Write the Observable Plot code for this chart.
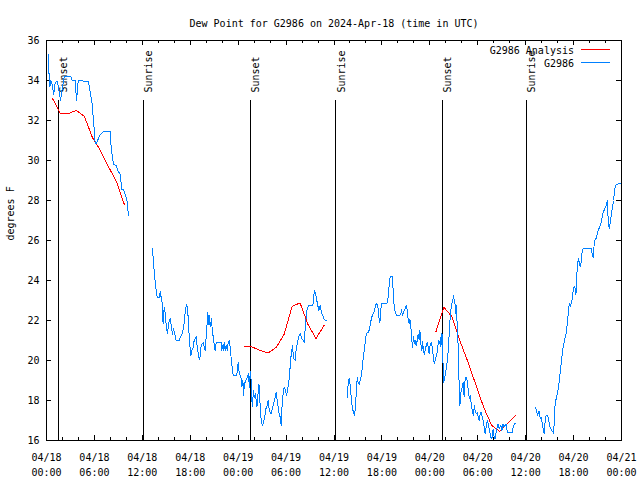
<!DOCTYPE html>
<html><head><meta charset="utf-8">
<script src="https://cdn.jsdelivr.net/npm/d3@7"></script>
<script src="https://cdn.jsdelivr.net/npm/@observablehq/plot@0.6"></script>
<style>html,body{margin:0;padding:0;background:#fff}svg{display:block}</style>
</head><body><div id="chart"></div>
<script>
const startUTC = Date.UTC(2024, 3, 18, 0, 0);
const title = "Dew Point for G2986 on 2024-Apr-18 (time in UTC)";
const yLabel = "degrees F";
const seriesNames = ["G2986 Analysis", "G2986"];
const seriesColors = ["#ff0000", "#0080ff"];
const yTicks = [16, 18, 20, 22, 24, 26, 28, 30, 32, 34, 36];
const xMajorHours = [0, 6, 12, 18, 24, 30, 36, 42, 48, 54, 60, 66, 72];
const xMinorHours = [2, 4, 8, 10, 14, 16, 20, 22, 26, 28, 32, 34, 38, 40, 44, 46, 50, 52, 56, 58, 62, 64, 68, 70];
const sunsetHours = [1.5, 25.57, 49.59];
const sunriseHours = [12.15, 36.24, 60.11];

// G2986 Analysis (hours since 04/18 00:00 UTC, deg F)
const analysis1 = [[0.75,33.1],[1.75,32.35],[2.75,32.35],[3.75,32.5],[4.75,32.2],[5.75,31.15],[6.75,30.5],[7.75,29.7],[8.75,28.95],[9.75,27.8]];
const analysis2 = [[24.75,20.68],[25.75,20.68],[26.75,20.5],[27.75,20.38],[28.75,20.65],[29.75,21.3],[30.75,22.7],[31.75,22.88],[32.75,21.8],[33.75,21.1],[34.75,21.75]];
const analysis3 = [[48.75,21.42],[49.75,22.67],[50.75,22.2],[51.75,21.0],[52.75,19.95],[53.75,18.8],[54.75,17.65],[55.75,16.75],[56.75,16.45],[57.75,16.85],[58.75,17.25]];

// G2986 observations
const obs1 = [[0.25,35.3],[0.34,34.0],[0.43,33.7],[0.53,34.0],[0.71,33.8],[0.90,33.3],[1.09,33.9],[1.34,33.95],[1.53,33.6],[1.75,33.0],[1.97,33.6],[2.22,34.2],[3.06,34.2],[3.22,34.0],[3.59,34.0],[3.76,33.0],[3.97,34.0],[5.26,33.95],[5.47,33.4],[5.69,32.9],[5.89,32.0],[6.10,30.85],[6.22,30.85],[6.51,31.1],[6.72,31.3],[7.14,31.45],[7.98,31.45],[8.10,30.6],[8.39,29.8],[8.73,29.75],[8.94,29.5],[9.23,29.3],[9.44,28.55],[9.64,28.55],[9.85,28.3],[10.07,28.0],[10.27,27.25]];
const obs2 = [[13.27,25.58],[13.40,24.9],[13.52,24.25],[13.74,23.5],[13.86,23.15],[14.15,23.15],[14.24,23.45],[14.36,23.15],[14.45,23.1],[14.53,22.2],[14.61,21.85],[14.74,22.67],[14.86,22.4],[14.99,21.75],[15.15,21.33],[15.28,21.83],[15.49,22.1],[15.61,21.8],[15.78,21.3],[15.90,21.6],[16.08,21.3],[16.24,21.0],[16.62,21.0],[16.74,21.15],[16.99,21.35],[17.16,21.6],[17.28,22.1],[17.41,22.6],[17.58,22.8],[17.66,22.5],[17.78,22.0],[17.87,21.15],[17.99,20.6],[18.08,20.25],[18.21,20.5],[18.37,20.67],[18.49,21.0],[18.75,21.2],[18.87,20.67],[19.00,20.33],[19.16,20.03],[19.25,20.25],[19.37,20.75],[19.62,20.9],[19.87,20.5],[20.21,22.4],[20.29,21.8],[20.37,22.25],[20.50,21.67],[20.66,22.08],[20.79,21.33],[20.91,21.17],[21.00,20.75],[21.12,20.5],[21.25,20.9],[21.88,20.9],[21.96,20.5],[22.04,20.75],[22.16,20.5],[22.25,20.9],[22.37,20.5],[22.50,20.75],[22.63,20.5],[22.75,20.9],[22.88,21.0],[23.00,20.67],[23.13,20.08],[23.25,19.67],[23.38,19.25],[23.79,19.25],[23.92,19.5],[24.00,19.9],[24.13,19.4],[24.34,19.17],[24.47,18.67],[24.59,19.0],[24.67,18.25],[24.79,18.83],[24.97,19.0],[25.17,19.17],[25.26,19.33],[25.34,19.0],[25.42,18.67],[25.51,19.47],[25.63,19.0],[25.76,17.67],[25.92,18.5],[26.01,18.17],[26.17,18.33],[26.35,17.67],[26.42,18.0],[26.60,18.83],[26.67,18.42],[26.76,17.67],[26.88,17.0],[27.05,16.75],[27.17,16.92],[27.35,17.25],[27.47,17.58],[27.64,17.75],[27.76,18.0],[27.89,17.5],[28.10,17.33],[28.23,17.5],[28.43,17.83],[28.64,18.17],[28.76,18.42],[28.89,18.0],[29.01,17.67],[29.14,17.33],[29.26,17.17],[29.39,16.75],[29.51,17.83],[29.68,18.58],[29.80,18.67],[29.93,18.5],[30.05,18.25],[30.18,18.5],[30.30,18.83],[30.43,19.17],[30.55,20.0],[30.80,20.75],[30.93,20.1],[31.14,20.0],[31.27,20.6],[31.56,21.17],[31.77,21.37],[31.98,21.1],[32.31,20.9],[32.39,21.67],[32.61,22.53],[32.81,22.75],[33.36,22.75],[33.43,23.17],[33.56,23.5],[33.77,23.17],[33.93,22.83],[34.11,22.5],[34.27,22.75],[34.43,22.4],[34.61,22.25],[34.81,22.03],[35.11,21.98]];
const obs3 = [[37.69,18.17],[37.78,18.9],[37.90,19.13],[38.03,18.75],[38.15,18.17],[38.28,17.67],[38.44,17.4],[38.57,17.25],[38.69,17.67],[38.82,18.67],[38.91,19.13],[39.03,18.9],[39.16,18.8],[39.28,19.0],[39.44,19.3],[39.57,19.75],[39.69,20.25],[39.87,20.75],[39.99,21.2],[40.16,21.42],[40.28,21.37],[40.45,21.58],[40.57,21.87],[40.70,22.13],[40.87,22.33],[41.03,22.42],[41.16,22.67],[41.32,22.87],[41.50,22.67],[41.62,22.17],[41.75,21.9],[41.87,22.58],[42.00,22.87],[42.66,22.87],[42.79,23.17],[42.91,23.75],[43.04,24.2],[43.33,24.2],[43.41,23.42],[43.54,22.67],[43.66,22.42],[43.83,22.25],[44.25,22.25],[44.38,22.37],[44.45,22.53],[44.58,22.25],[44.70,22.42],[44.88,22.58],[45.04,22.75],[45.17,22.53],[45.29,22.03],[45.42,21.83],[45.50,22.08],[45.63,21.67],[45.75,21.0],[45.83,20.67],[45.96,21.2],[46.08,20.83],[46.17,21.03],[46.29,20.75],[46.42,21.0],[46.54,21.33],[46.67,21.03],[46.76,21.5],[46.88,20.83],[47.01,20.5],[47.08,20.97],[47.21,20.53],[47.30,20.3],[47.42,20.53],[47.55,20.75],[47.67,20.92],[47.80,20.7],[47.92,20.33],[48.05,20.83],[48.17,20.9],[48.30,20.67],[48.42,20.25],[48.55,19.83],[48.67,20.0],[48.89,20.33],[49.01,20.75],[49.14,21.0],[49.26,20.83],[49.30,21.17],[49.39,20.67],[49.46,21.33],[49.58,21.3],[49.67,19.5],[49.71,18.92],[49.84,19.08],[49.96,19.33],[50.09,19.67],[50.21,20.08],[50.34,20.67],[50.46,21.67],[50.59,22.33],[50.71,22.83],[50.84,22.92],[50.96,23.25],[51.09,22.92],[51.18,22.75],[51.26,22.33],[51.34,22.75],[51.43,21.67],[51.52,21.0],[51.59,19.83],[51.68,18.67],[51.77,17.75],[51.84,18.17],[51.93,18.5],[52.05,18.67],[52.18,18.92],[52.30,18.17],[52.43,19.17],[52.55,19.17],[52.72,18.92],[52.81,18.5],[52.97,18.08],[53.06,18.25],[53.18,17.83],[53.34,17.42],[53.47,17.25],[53.56,17.75],[53.68,17.5],[53.81,17.33],[53.97,17.42],[54.06,17.17],[54.18,17.0],[54.31,17.33],[54.43,17.42],[54.56,17.17],[54.68,17.0],[54.81,16.67],[54.93,16.33],[55.06,16.67],[55.18,17.0],[55.31,16.83],[55.43,16.58],[55.56,16.33],[55.68,16.08],[55.81,16.17],[55.93,16.58],[56.06,16.17],[56.18,16.08],[56.31,16.42],[56.44,16.67],[56.56,16.83],[56.69,16.58],[56.90,16.75],[57.03,16.5],[57.15,16.83],[57.31,16.67],[57.53,16.83],[57.60,16.67],[57.73,16.42],[58.32,16.42],[58.44,16.67],[58.57,16.83],[58.78,16.87]];
const obs4 = [[61.23,17.63],[61.36,17.53],[61.48,17.25],[61.57,17.37],[61.70,17.47],[61.82,17.08],[61.95,17.13],[62.07,16.9],[62.20,16.58],[62.33,16.33],[62.45,17.0],[62.57,17.25],[62.74,17.25],[62.86,17.08],[62.99,16.75],[63.16,16.58],[63.32,16.47],[63.49,16.37],[63.57,16.83],[63.70,17.92],[63.82,18.08],[63.95,18.33],[64.07,18.58],[64.20,18.92],[64.33,19.42],[64.45,19.83],[64.58,20.33],[64.70,20.67],[64.83,20.92],[64.96,21.17],[65.08,21.37],[65.21,21.83],[65.33,22.33],[65.46,22.87],[65.58,22.67],[65.71,22.87],[65.83,23.08],[65.96,23.53],[66.08,23.7],[66.21,23.58],[66.29,23.3],[66.37,23.75],[66.45,24.63],[66.58,25.08],[66.70,24.92],[66.83,24.67],[66.96,24.92],[67.08,25.5],[67.20,25.58],[68.25,25.58],[68.33,25.3],[68.46,25.13],[68.58,25.83],[68.71,26.08],[68.87,26.12],[69.00,26.42],[69.12,26.53],[69.25,26.67],[69.46,26.92],[69.58,27.17],[69.71,27.42],[69.84,27.53],[70.00,27.67],[70.13,27.83],[70.22,28.0],[70.34,27.0],[70.47,26.58],[70.59,26.92],[70.72,27.25],[70.84,27.58],[71.00,28.0],[71.13,28.5],[71.25,28.75],[71.46,28.8],[71.71,28.85],[71.96,28.88]];

const toDate = h => new Date(startUTC + h * 3600e3);
const rows = (segs) => segs.flatMap((s, i) => s.map(([h, v]) => ({t: toDate(h), v, seg: i})));
const analysisRows = rows([analysis1, analysis2, analysis3]);
const obsRows = rows([obs1, obs2, obs3, obs4]);
const fmt = d3.utcFormat("%m/%d\n%H:%M");

const W = 640, H = 480, mL = 46, mR = 19, mT = 40, mB = 40;
const innerW = W - mL - mR, innerH = H - mT - mB;
const crisp = "crispEdges";

const chart = Plot.plot({
  width: W, height: H,
  marginLeft: mL, marginRight: mR, marginTop: mT, marginBottom: mB,
  style: {fontFamily: "'DejaVu Sans Mono', monospace", fontSize: "10px", color: "#000", background: "#fff"},
  x: {type: "utc", domain: [toDate(0), toDate(72)], axis: null, label: null},
  y: {domain: [16, 36], axis: null, label: null},
  marks: [
    Plot.axisX(xMajorHours.map(toDate), {anchor: "bottom", label: null, tickSize: 0, tickPadding: 9, tickFormat: fmt, lineHeight: 1.55, fill: "#000"}),
    Plot.axisY(yTicks, {anchor: "left", label: null, tickSize: 0, tickPadding: 7, fill: "#000"}),
    // inward ticks on all four sides
    Plot.ruleX(xMajorHours.map(toDate), {insetTop: innerH - 5, stroke: "#000", shapeRendering: crisp}),
    Plot.ruleX(xMajorHours.map(toDate), {insetBottom: innerH - 5, stroke: "#000", shapeRendering: crisp}),
    Plot.ruleX(xMinorHours.map(toDate), {insetTop: innerH - 3, stroke: "#000", shapeRendering: crisp}),
    Plot.ruleX(xMinorHours.map(toDate), {insetBottom: innerH - 3, stroke: "#000", shapeRendering: crisp}),
    Plot.ruleY(yTicks, {insetRight: innerW - 5, stroke: "#000", shapeRendering: crisp}),
    Plot.ruleY(yTicks, {insetLeft: innerW - 5, stroke: "#000", shapeRendering: crisp}),
    // sunrise / sunset markers
    Plot.ruleX(sunsetHours.concat(sunriseHours).map(toDate), {insetTop: 60, stroke: "#000", shapeRendering: crisp}),
    Plot.text(sunsetHours, {x: toDate, text: () => "Sunset", frameAnchor: "top", dy: 52, dx: 1.5, rotate: -90, textAnchor: "start", fill: "#000"}),
    Plot.text(sunriseHours, {x: toDate, text: () => "Sunrise", frameAnchor: "top", dy: 52, dx: 1.5, rotate: -90, textAnchor: "start", fill: "#000"}),
    // series
    Plot.line(analysisRows, {x: "t", y: "v", z: "seg", stroke: seriesColors[0], strokeWidth: 1, shapeRendering: crisp}),
    Plot.line(obsRows, {x: "t", y: "v", z: "seg", stroke: seriesColors[1], strokeWidth: 1, shapeRendering: crisp}),
    Plot.frame({stroke: "#000", shapeRendering: crisp}),
    // title and y label
    Plot.text([title], {frameAnchor: "top", dy: -21, text: d => d, fill: "#000"}),
    Plot.text([yLabel], {frameAnchor: "left", dx: -36, rotate: -90, text: d => d, fill: "#000"})
  ]
});

// legend (top-right, inside frame)
const svg = d3.select(chart);
const legend = svg.append("g").attr("font-family", "'DejaVu Sans Mono', monospace").attr("font-size", 10);
seriesNames.forEach((name, i) => {
  const y = 50 + i * 13;
  legend.append("text").attr("x", 574).attr("y", y).attr("dy", "0.35em").attr("text-anchor", "end").attr("fill", "#000").text(name);
  legend.append("line").attr("x1", 581).attr("x2", 610).attr("y1", y - 0.5).attr("y2", y - 0.5)
    .attr("stroke", seriesColors[i]).attr("stroke-width", 1).attr("shape-rendering", "crispEdges");
});

document.getElementById("chart").appendChild(chart);
</script>
</body></html>
